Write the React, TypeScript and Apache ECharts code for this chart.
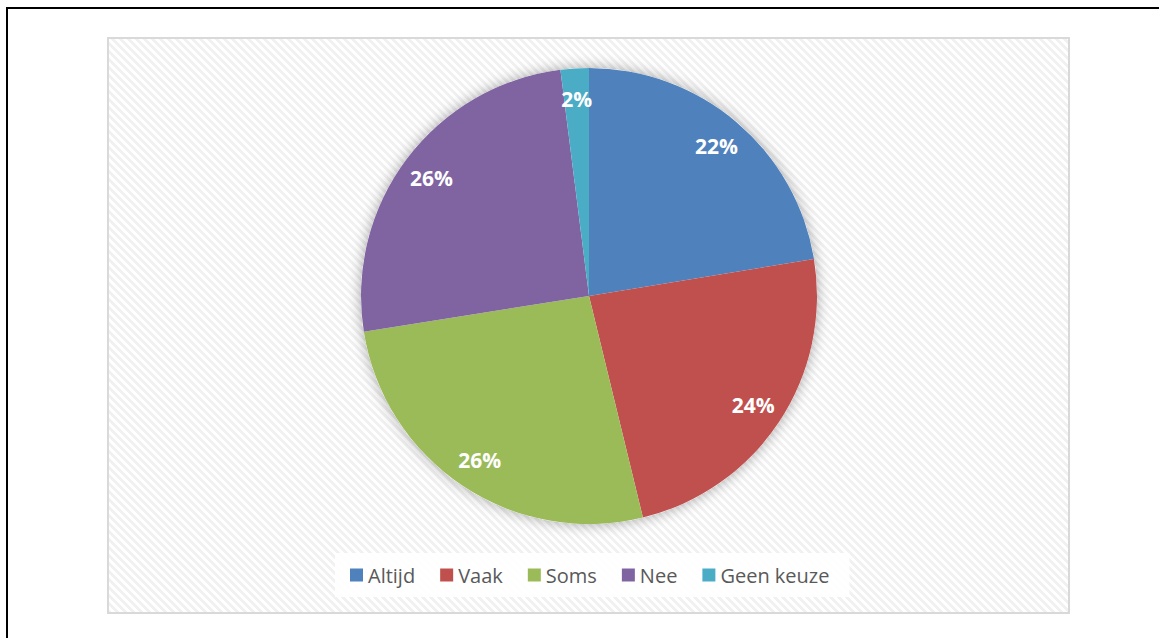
import React, { useEffect, useRef } from "react";
import * as echarts from "echarts";

const categories = ["Altijd", "Vaak", "Soms", "Nee", "Geen keuze"];
const values = [22.4, 23.8, 26.3, 25.5, 2.0];
const colors = ["#4F81BD", "#C0504D", "#9BBB59", "#8064A2", "#4BACC6"];

function makeHatch(): string {
  const c = document.createElement("canvas");
  c.width = 8;
  c.height = 8;
  const ctx = c.getContext("2d")!;
  ctx.fillStyle = "#ffffff";
  ctx.fillRect(0, 0, 8, 8);
  ctx.fillStyle = "#f1f1f1";
  for (let y = 0; y < 8; y++) {
    for (let x = 0; x < 8; x++) {
      if ((((x - y) % 8) + 8) % 8 < 4) ctx.fillRect(x, y, 1, 1);
    }
  }
  return c.toDataURL();
}

export default function App() {
  const ref = useRef<HTMLDivElement>(null);
  useEffect(() => {
    document.body.style.margin = "0";
    const chart = echarts.init(ref.current!, null, { renderer: "svg" });
    const hatch = makeHatch();
    const data = categories.map((name, i) => ({
      name,
      value: values[i],
      itemStyle: { color: colors[i] },
    }));
    chart.setOption({
      animation: false,
      backgroundColor: "#ffffff",
      graphic: [
        {
          type: "rect",
          z: 0,
          shape: { x: 7, y: 8, width: 1200, height: 700 },
          style: { fill: "none", stroke: "#000000", lineWidth: 2 },
          silent: true,
        },
        {
          type: "rect",
          z: 0,
          shape: { x: 108, y: 38, width: 961, height: 575 },
          style: {
            fill: { image: hatch, repeat: "repeat", imageWidth: 8, imageHeight: 8 } as any,
            stroke: "#d9d9d9",
            lineWidth: 2,
          },
          silent: true,
        },
      ],
      legend: {
        data: categories,
        left: 335,
        top: 553,
        icon: "rect",
        itemWidth: 13,
        itemHeight: 13,
        itemGap: 25,
        padding: [12, 20, 12, 15],
        backgroundColor: "rgba(255,255,255,0.9)",
        selectedMode: false,
        textStyle: { color: "#595959", fontSize: 20, fontFamily: "Open Sans" },
      },
      series: [
        {
          type: "pie",
          name: "shadow",
          z: 1,
          silent: true,
          center: [589, 296],
          radius: 228,
          label: { show: false },
          labelLine: { show: false },
          itemStyle: {
            color: "#ffffff",
            shadowBlur: 14,
            shadowColor: "rgba(0,0,0,0.35)",
          },
          data: [{ name: "_bg", value: 1 }],
        },
        {
          type: "pie",
          name: "main",
          z: 2,
          silent: true,
          center: [589, 296],
          radius: 228,
          startAngle: 90,
          clockwise: true,
          label: { show: false },
          labelLine: { show: false },
          itemStyle: { borderWidth: 0 },
          data,
        },
        {
          type: "pie",
          name: "labels",
          z: 3,
          silent: true,
          center: [589, 296],
          radius: [160, 228],
          startAngle: 90,
          clockwise: true,
          itemStyle: { color: "rgba(0,0,0,0)", borderWidth: 0 },
          labelLine: { show: false },
          label: {
            show: true,
            position: "inside",
            formatter: (p: any) => Math.round(p.percent) + "%",
            color: "#ffffff",
            fontWeight: "bold",
            fontSize: 21,
            fontFamily: "Open Sans",
          },
          data: categories.map((name, i) => ({ name, value: values[i] })),
        },
      ],
    });
    return () => chart.dispose();
  }, []);
  return <div ref={ref} style={{ width: 1159, height: 638 }} />;
}
